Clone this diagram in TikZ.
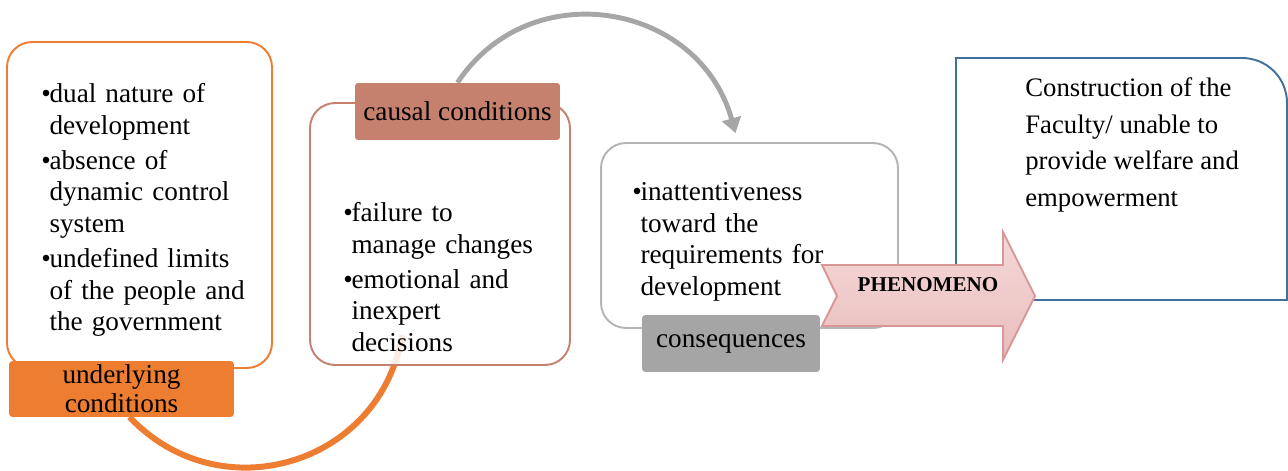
\documentclass[tikz,border=0pt]{standalone}
\usepackage{fontspec}
\setmainfont{Liberation Serif}
\usetikzlibrary{arrows.meta, positioning, calc}

\definecolor{undercol}{HTML}{ED7D31}
\definecolor{causalcol}{HTML}{C5806E}
\definecolor{conscol}{HTML}{A5A5A5}
\definecolor{consline}{HTML}{B4B4B4}
\definecolor{loopcol}{HTML}{A6A6A6}
\definecolor{resultcol}{HTML}{41719C}
\definecolor{phenline}{HTML}{D99694}
\definecolor{phentop}{HTML}{F5D9D8}
\definecolor{phenmid}{HTML}{FCF0F0}
\definecolor{phenbot}{HTML}{E8BDBC}

\newcommand{\bitem}{\hangindent=0.3em\hangafter=1\noindent\makebox[0.3em][l]{\textbullet}}

\begin{document}
\begin{tikzpicture}[x=0.02cm, y=-0.02cm,
    box/.style={draw, rounded corners=0.5cm, fill=white, line width=1.1pt},
    tag/.style={rounded corners=2pt, align=center, inner sep=0pt, font=\fontsize{15.5}{16.5}\selectfont},
    txt/.style={anchor=north west, inner sep=0pt, text width=4.6cm, font=\fontsize{15.5}{18}\selectfont}]
    \useasboundingbox (0,0) rectangle (1288,470);

    % underlying conditions
    \node[box, draw=undercol, minimum width=5.3cm, minimum height=6.52cm] (under) at (139.5,205) {};
    \node[txt] (undertxt) at (41,83) {\raggedright\setlength{\parskip}{2pt}%
        \bitem dual nature of\newline development\par
        \bitem absence of\newline dynamic control\newline system\par
        \bitem undefined limits\newline of the people and\newline the government\par};

    % causal conditions
    \coordinate (orangeend) at (402,335);
    \draw[undercol, line width=3.4pt] ($(121.5,417)+(8,0)$) .. controls (220,513) and (381,465) .. (orangeend);
    \node[tag, fill=undercol, minimum width=4.5cm, minimum height=1.12cm] (undertag) at (121.5,389) {underlying\\conditions};

    \node[box, draw=causalcol, fill opacity=0.85, minimum width=5.2cm, minimum height=5.24cm] (causal) at (440,234) {};
    \node[txt] (causaltxt) at (343,202) {\raggedright\setlength{\parskip}{2pt}%
        \bitem failure to\newline manage changes\par
        \bitem emotional and\newline inexpert\newline decisions\par};

    \node[tag, fill=causalcol, minimum width=4.1cm, minimum height=1.14cm] (causaltag) at (457.5,111.5) {};
    \node[box, draw=consline, minimum width=5.94cm, minimum height=3.7cm] (conseq) at (749.5,235.5) {};
    \coordinate (looptip) at ($(conseq.north)+(-14,-9)$);
    \draw[loopcol, line width=2.8pt, -{Triangle[length=0.3cm, width=0.38cm]}] (causaltag.north) .. controls (530,-27) and (699,2) .. (looptip);
    \node[tag, fill=causalcol, minimum width=4.1cm, minimum height=1.14cm] (causaltag) at (457.5,111.5) {causal conditions};

    % consequences
    \node[txt] (conseqtxt) at (632,182) {\raggedright\setlength{\parskip}{2pt}%
        \bitem inattentiveness\newline toward the\newline requirements for\newline development\par};
    \node[tag, fill=conscol, minimum width=3.56cm, minimum height=1.14cm] (conseqtag) at (731,343.5) {consequences};

    % result
    \draw[resultcol, line width=1.1pt] (956,58) -- (956,300) -- (1287,300) -- (1287,103) .. controls (1287,78) and (1267,58) .. (1242,58) -- cycle;
    \node[anchor=north west, inner sep=0pt, align=left, font=\fontsize{15.2}{21}\selectfont] (resulttxt) at (1025,77)
        {Construction of the\\Faculty/ unable to\\provide welfare and\\empowerment};

    % phenomeno arrow
    \shadedraw[top color=phentop, middle color=phenmid, bottom color=phenbot, draw=phenline, line width=1.1pt]
        (822,265) -- (1003,265) -- (1003,232) -- (1035,296) -- (1003,360) -- (1003,326) -- (822,326) -- (837,296) -- cycle;
    \node[font=\bfseries\fontsize{12}{12}\selectfont] (phen) at (928,285) {PHENOMENO};
\end{tikzpicture}
\end{document}
